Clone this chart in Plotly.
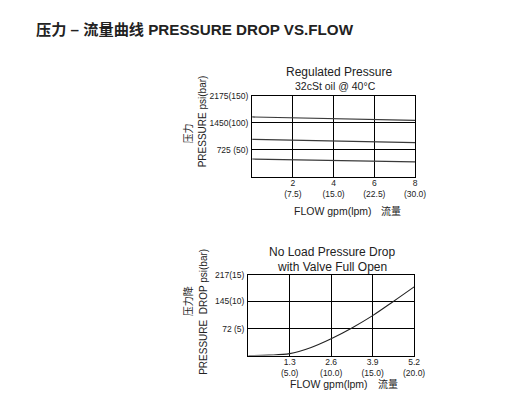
import plotly.graph_objects as go

W, H = 529, 404
OFF = 8  # default body margin of the html page
FW, FH = W - 2 * OFF, H - 2 * OFF
DX, DY = 6, -2  # small empirical correction of chart placement

# ---- data: Regulated Pressure (top chart) ----
reg_flow_gpm = [0, 2, 4, 6, 8]
reg_high_psi = [1610, 1590, 1568, 1545, 1520]
reg_mid_psi = [1010, 990, 965, 942, 920]
reg_low_psi = [480, 462, 442, 422, 405]
reg_x_ticks = [2, 4, 6, 8]
reg_x_labels = ["2<br>(7.5)", "4<br>(15.0)", "6<br>(22.5)", "8<br>(30.0)"]
reg_y_ticks = [725, 1450, 2175]
reg_y_labels = ["725 (50)", "1450(100)", "2175(150)"]

# ---- data: No Load Pressure Drop (bottom chart) ----
drop_flow_gpm = [0, 0.65, 1.3, 1.95, 2.6, 3.25, 3.9, 4.55, 5.2]
drop_psi = [0, 1, 5, 21, 45, 74, 107, 145, 184]
drop_x_ticks = [1.3, 2.6, 3.9, 5.2]
drop_x_labels = ["1.3<br>(5.0)", "2.6<br>(10.0)", "3.9<br>(15.0)", "5.2<br>(20.0)"]
drop_y_ticks = [72, 145, 217]
drop_y_labels = ["72 (5)", "145(10)", "217(15)"]

FONT = "Liberation Sans, Arial, Noto Sans CJK SC, sans-serif"
CJK = "Noto Sans CJK SC, Liberation Sans, sans-serif"


def px_x(p, shift=True):
    return (p + (DX if shift else 0) - OFF) / FW


def px_y(p, shift=True):
    return 1 - (p + (DY if shift else 0) - OFF) / FH


fig = go.Figure()
line_style = dict(color="#3a3a3a", width=1.2)
for ys in (reg_high_psi, reg_mid_psi, reg_low_psi):
    fig.add_trace(go.Scatter(x=reg_flow_gpm, y=ys, mode="lines", line=line_style,
                             xaxis="x", yaxis="y", showlegend=False, hoverinfo="skip"))
fig.add_trace(go.Scatter(x=drop_flow_gpm, y=drop_psi, mode="lines", line_shape="spline",
                         line=dict(color="#222", width=1.1),
                         xaxis="x2", yaxis="y2", showlegend=False, hoverinfo="skip"))

axis_common = dict(showgrid=True, gridcolor="#000", gridwidth=1, showline=True,
                   linecolor="#000", linewidth=1.3, mirror=True, zeroline=False,
                   tickfont=dict(family=FONT, size=8.5, color="#222"), fixedrange=True)

fig.update_layout(
    width=FW, height=FH, margin=dict(l=0, r=0, t=0, b=0),
    paper_bgcolor="white", plot_bgcolor="white",
    xaxis=dict(domain=[px_x(251.5), px_x(418)], range=[0, 8], tickmode="array",
               tickvals=reg_x_ticks, ticktext=reg_x_labels, anchor="y",
               ticks="", ticklabelstandoff=-2, **axis_common),
    yaxis=dict(domain=[px_y(176), px_y(94)], range=[0, 2175], tickmode="array",
               tickvals=reg_y_ticks, ticktext=reg_y_labels, anchor="x",
               ticks="", ticklabelstandoff=1, **axis_common),
    xaxis2=dict(domain=[px_x(247.5), px_x(417)], range=[0, 5.2], tickmode="array",
                tickvals=drop_x_ticks, ticktext=drop_x_labels, anchor="y2",
                ticks="", ticklabelstandoff=-2, **axis_common),
    yaxis2=dict(domain=[px_y(357), px_y(275)], range=[0, 217], tickmode="array",
                tickvals=drop_y_ticks, ticktext=drop_y_labels, anchor="x2",
                ticks="", ticklabelstandoff=1, **axis_common),
)


def ann(text, x, y, size, family=FONT, angle=0, xanchor="center", color="#222", shift=True):
    fig.add_annotation(text=text, x=px_x(x, shift), y=px_y(y, shift), xref="paper", yref="paper",
                       showarrow=False, textangle=angle, xanchor=xanchor, yanchor="middle",
                       font=dict(family=family, size=size, color=color))


# main title
ann("<b>压力 – 流量曲线 PRESSURE DROP VS.FLOW</b>", 35, 25, 15.2, family=FONT + ", Noto Sans CJK SC",
    xanchor="left", shift=False)

# top chart titles
ann("Regulated Pressure", 340, 70, 12)
ann("32cSt oil @ 40°C", 337, 84, 10.5)
ann("压力", 185, 132, 10, family=CJK, angle=-90)
ann("PRESSURE psi(bar)", 201, 120, 10, angle=-90)
ann("FLOW gpm(lpm)", 334, 211, 10.5)
ann("流量", 393, 210, 10, family=CJK)

# bottom chart titles
ann("No Load Pressure Drop", 333, 252, 12)
ann("with Valve Full Open", 333, 267, 12)
ann("压力降", 185, 302, 10, family=CJK, angle=-90)
ann("PRESSURE\u00a0\u00a0DROP psi(bar)", 201, 313, 10, angle=-90)
ann("FLOW gpm(lpm)", 330, 386, 10.5)
ann("流量", 390, 385, 10, family=CJK)

fig.write_html("out.html", config={"displayModeBar": False})
